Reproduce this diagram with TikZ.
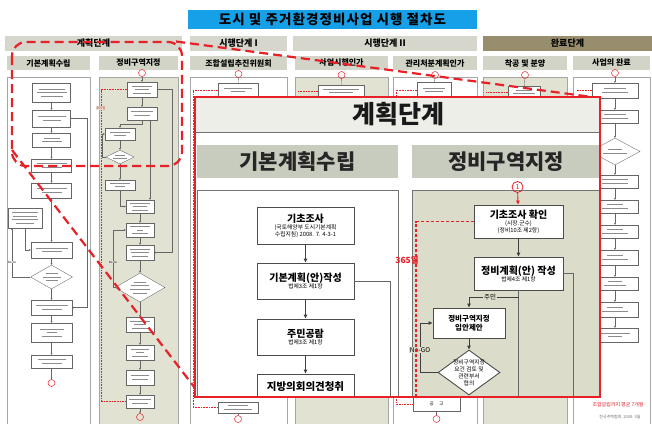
\documentclass[tikz,border=0pt]{standalone}
\usepackage{fontspec}
\newfontfamily\kr{Noto Sans CJK KR}
\newfontfamily\krw[LetterSpace=8]{Noto Sans CJK KR}
\usetikzlibrary{arrows.meta,shapes.geometric,calc}
\definecolor{titleblue}{RGB}{22,160,232}
\definecolor{hdrgray}{RGB}{214,214,204}
\definecolor{hdrdark}{RGB}{152,142,110}
\definecolor{subgray}{RGB}{210,212,200}
\definecolor{beige}{RGB}{226,226,210}
\definecolor{ibeige}{RGB}{220,220,202}
\definecolor{isub}{RGB}{200,204,190}
\definecolor{iband}{RGB}{238,238,232}
\definecolor{kred}{RGB}{232,32,40}
\newcommand\scrb[1]{{\color{black!45}\rule{#1pt}{0.8pt}}}
\newcommand\kfs[2]{\fontsize{#1}{#2}\selectfont}
\begin{document}
\begin{tikzpicture}[x=1pt,y=-1pt,font=\kr,
 phase/.style={fill=hdrgray, minimum height=15pt, inner sep=0pt, font=\kr\bfseries\kfs{9}{10}},
 subh/.style={fill=subgray, minimum height=14pt, inner sep=0pt, font=\kr\bfseries\kfs{8}{9}},
 panel/.style={draw=black!35, line width=0.4pt},
 mini/.style={draw=black!60, fill=white, line width=0.35pt, inner sep=0pt, align=center, font=\kr\kfs{3}{3.6}},
 mdia/.style={diamond, draw=black!60, fill=white, line width=0.35pt, inner sep=0pt},
 dtext/.style={font=\kr\kfs{3}{3.6}, align=center, inner sep=0pt},
 rc/.style={circle, draw=kred, line width=0.5pt, minimum size=7pt, inner sep=0pt},
 mline/.style={draw=black!60, line width=0.35pt},
 marr/.style={mline, -{Triangle[length=1.6pt,width=1.6pt]}},
 rdot/.style={draw=kred, line width=0.6pt, densely dotted},
 bigbox/.style={draw=black!70, fill=white, line width=0.9pt, inner sep=1pt, align=center, font=\kr\kfs{5.8}{7}},
 barr/.style={draw=black!75, line width=0.9pt, -{Triangle[length=4pt,width=3.5pt]}},
 bline/.style={draw=black!60, line width=0.9pt},
 rdash/.style={draw=kred, line width=2.2pt, dash pattern=on 9pt off 5pt},
]
\useasboundingbox (0,0) rectangle (652,423);
\fill[white] (0,0) rectangle (652,423);
% ---------- title and headers
\node[fill=titleblue, minimum width=289pt, minimum height=19pt, inner sep=0pt, font=\krw\bfseries\kfs{13.5}{15}] (title) at (332.5,19.5) {도시 및 주거환경정비사업 시행 절차도};
\node[phase, minimum width=177pt] (ph1) at (93.5,43.5) {계획단계};
\node[phase, minimum width=97pt] (ph2) at (238.5,43.5) {시행단계 I};
\node[phase, minimum width=184pt] (ph3) at (385,43.5) {시행단계 II};
\node[phase, minimum width=169pt, fill=hdrdark] (ph4) at (567.5,43.5) {완료단계};
\node[subh, minimum width=83pt] (sh1) at (48.5,63) {기본계획수립};
\node[subh, minimum width=79pt] (sh2) at (138.5,63) {정비구역지정};
\node[subh, minimum width=97pt] (sh3) at (238.5,63) {조합설립추진위원회};
\node[subh, minimum width=93pt] (sh4) at (341.5,63) {사업시행인가};
\node[subh, minimum width=84pt] (sh5) at (435,63) {관리처분계획인가};
\node[subh, minimum width=84pt] (sh6) at (525,63) {착공 및 분양};
\node[subh, minimum width=77pt] (sh7) at (611.5,63) {사업의 완료};
% ---------- column panels
\draw[panel, fill=white] (7,77) rectangle (90,430);
\draw[panel, fill=beige] (99,77) rectangle (178,430);
\draw[panel, fill=white] (190,77) rectangle (287,430);
\draw[panel, fill=beige] (295,77) rectangle (388,430);
\draw[panel, fill=white] (393,77) rectangle (477,430);
\draw[panel, fill=beige] (483,77) rectangle (567,430);
\draw[panel, fill=white] (573,77) rectangle (650,430);
% ---------- column 1 (background)
\node[mini, minimum width=38pt, minimum height=19pt] (a1) at (51.5,92.5) {\scrb{26}\\\scrb{30}\\\scrb{22}};
\node[mini, minimum width=38pt, minimum height=17pt] (a2) at (51.5,118.5) {\scrb{28}\\\scrb{18}};
\node[mini, minimum width=38pt, minimum height=14pt] (a3) at (51.5,140) {\scrb{16}\\\scrb{20}};
\node[mini, minimum width=40pt, minimum height=13pt] (a4) at (51.5,165.5) {\scrb{30}\\\scrb{20}};
\node[mini, minimum width=40pt, minimum height=15pt] (a5) at (51.5,190.5) {\scrb{30}\\\scrb{20}};
\node[mini, minimum width=34pt, minimum height=20pt] (s1) at (25,218) {\scrb{26}\\\scrb{24}\\\scrb{26}\\\scrb{18}};
\node[mini, minimum width=41pt, minimum height=16pt] (a6) at (51.5,250) {\scrb{32}\\\scrb{20}};
\node[mdia, minimum width=42pt, minimum height=24pt] (ad) at (51.5,277) {};
\node[dtext] (adt) at (ad) {\scrb{12}\\\scrb{18}\\\scrb{12}};
\node[mini, minimum width=41pt, minimum height=15pt] (a7) at (51.5,307.5) {\scrb{32}\\\scrb{20}};
\node[mini, minimum width=41pt, minimum height=19pt] (a8) at (51.5,332.5) {\scrb{24}\\\scrb{10}\\\scrb{20}};
\node[mini, minimum width=41pt, minimum height=13pt] (a9) at (51.5,361.5) {\scrb{28}\\\scrb{20}};
\node[rc] (ac) at (51.5,383) {};
\foreach \u/\v in {a1/a2,a2/a3,a3/a4,a4/a5,a5/a6,a6/ad,ad/a7,a7/a8,a8/a9,a9/ac} \draw[marr] (\u) -- (\v);
\draw[marr] (s1.south) |- (a6.west);
\draw[marr] (ad.west) -| ([xshift=-13pt]s1.south);
\node[font=\kr\kfs{2.8}{3}, fill=white, inner sep=0.3pt] (nogo1) at (12,262) {No-Go};
\draw[marr] (a2.east) -- (87,118.5) |- (a7.east);
% ---------- column 2 (background)
\node[rc] (b0) at (142,73) {};
\node[mini, minimum width=30pt, minimum height=15pt] (b1) at (142,89.5) {\scrb{20}\\\scrb{14}\\\scrb{18}};
\node[mini, minimum width=30pt, minimum height=13pt] (b2) at (142,113.5) {\scrb{22}\\\scrb{16}};
\node[mini, minimum width=30pt, minimum height=12pt] (b3) at (120,134) {\scrb{20}\\\scrb{12}};
\node[mdia, minimum width=28pt, minimum height=14pt] (bd1) at (120,157) {};
\node[dtext] (bd1t) at (bd1) {\scrb{10}\\\scrb{14}};
\node[mini, minimum width=30pt, minimum height=10pt] (b4) at (120,185) {\scrb{20}\\\scrb{10}};
\node[mini, minimum width=28pt, minimum height=13pt] (b5) at (140,206.5) {\scrb{20}\\\scrb{14}\\\scrb{16}};
\node[mini, minimum width=28pt, minimum height=14pt] (b6) at (140,230) {\scrb{20}\\\scrb{6}\\\scrb{16}};
\node[mini, minimum width=28pt, minimum height=15pt] (b7) at (140,252.5) {\scrb{20}\\\scrb{18}\\\scrb{16}};
\node[mdia, minimum width=50pt, minimum height=29pt] (bd2) at (140,287.5) {};
\node[dtext] (bd2t) at (bd2) {\scrb{12}\\\scrb{18}\\\scrb{20}\\\scrb{14}};
\node[mini, minimum width=28pt, minimum height=15pt] (b8) at (140,324.5) {\scrb{20}\\\scrb{12}\\\scrb{16}};
\node[mini, minimum width=28pt, minimum height=15pt] (b9) at (140,352.5) {\scrb{18}\\\scrb{8}\\\scrb{16}};
\node[mini, minimum width=28pt, minimum height=15pt] (b10) at (140,377.5) {\scrb{18}\\\scrb{16}};
\node[mini, minimum width=28pt, minimum height=13pt] (b11) at (140,401.5) {\scrb{22}\\\scrb{16}};
\node[rc] (bc) at (140,417) {};
\foreach \u/\v in {b0/b1,b1/b2,b3/bd1,bd1/b4,b5/b6,b6/b7,b7/bd2,bd2/b8,b8/b9,b9/b10,b10/b11,b11/bc} \draw[marr] (\u) -- (\v);
\draw[marr] (b2.south) -- ++(0,4) -| (b3.north);
\draw[marr] ([xshift=8pt]b2.south) -- ([xshift=8pt]b2.south |- b5.north);
\draw[marr] (b4.south) |- (b5.west);
\draw[marr] (bd1.west) -- ++(-4,0) |- (b3.west);
\draw[marr] (bd2.west) -- ++(-2,0) |- (b6.west);
\node[font=\kr\kfs{2.8}{3}, fill=beige, inner sep=0.3pt] (nogo2) at (113,262) {No-Go};
\draw[marr] (b1.east) -- (172,89.5) |- (b7.east);
\draw[rdot] (b1.west) -- (101,89.5) |- (b11.west);
\node[font=\kr\kfs{3.5}{4}, text=kred, fill=beige, inner sep=0.3pt] (d365a) at (101,108) {365일};
% ---------- columns 3-7 (background)
\node[rc] (c3o) at (238.5,74) {};
\node[mini, minimum width=40pt, minimum height=14pt] (c3a) at (238,90) {\scrb{28}\\\scrb{14}};
\draw[mline] (c3o) -- (c3a);
\node[mini, minimum width=40pt, minimum height=11pt] (c3z) at (238,407.5) {\scrb{20}\\\scrb{28}};
\node[rc] (c3zo) at (238,419) {};
\draw[mline] (c3z) -- (c3zo);
\draw[rdot] (c3a.west) -- (193,90) |- (c3z.west);
\node[rc] (c4o) at (341.5,75) {};
\node[mini, minimum width=46pt, minimum height=12pt] (c4a) at (341,91) {\scrb{36}\\\scrb{24}};
\draw[mline] (c4o) -- (c4a);
\draw[rdot] (c4a.west) -- (298,91);
\node[rc] (c5o) at (435,75) {};
\node[mini, minimum width=34pt, minimum height=16pt] (c5a) at (434,90) {\scrb{22}\\\scrb{18}};
\draw[mline] (c5o) -- (c5a);
\node[draw=black!60, fill=white, line width=0.35pt, minimum width=47pt, minimum height=14pt, inner sep=0pt, font=\kr\kfs{4.5}{5}] (c5z) at (436.5,404) {공 \quad 고};
\node[rc] (c5zo) at (436.5,419) {};
\draw[mline] (c5z) -- (c5zo);
\draw[rdot] (c5a.west) -- (396,90) |- (c5z.west);
\node[rc] (c6o) at (525,75) {};
\node[mini, minimum width=32pt, minimum height=12pt] (c6a) at (524,92) {\scrb{16}\\\scrb{22}};
\draw[mline] (c6o) -- (c6a);
\draw[rdot] (c6a.west) -- (486,92);
\node[rc] (g0) at (615,73) {};
\node[mini, minimum width=46pt, minimum height=15pt] (g1) at (615,90.5) {\scrb{22}\\\scrb{26}};
\node[mini, minimum width=46pt, minimum height=13pt] (g2) at (615,116.5) {\scrb{22}\\\scrb{26}};
\node[mdia, minimum width=50pt, minimum height=27pt] (gd) at (615,151.5) {};
\node[dtext] (gdt) at (gd) {\scrb{14}\\\scrb{24}};
\node[mini, minimum width=46pt, minimum height=13pt] (g3) at (615,181.5) {\scrb{26}\\\scrb{26}};
\node[mini, minimum width=46pt, minimum height=13pt] (g4) at (615,206.5) {\scrb{16}\\\scrb{26}};
\node[mini, minimum width=46pt, minimum height=13pt] (g5) at (615,231.5) {\scrb{16}\\\scrb{26}};
\node[mini, minimum width=46pt, minimum height=15pt] (g6) at (615,257.5) {\scrb{16}\\\scrb{26}};
\node[mini, minimum width=46pt, minimum height=13pt] (g7) at (615,283.5) {\scrb{14}\\\scrb{22}};
\node[mini, minimum width=46pt, minimum height=15pt] (g8) at (615,309.5) {\scrb{16}\\\scrb{26}};
\node[mini, minimum width=46pt, minimum height=14pt] (g9) at (615,335) {\scrb{30}\\\scrb{14}};
\foreach \u/\v in {g0/g1,g1/g2,g2/gd,gd/g3,g3/g4,g4/g5,g5/g6,g6/g7,g7/g8,g8/g9} \draw[marr] (\u) -- (\v);
\draw[rdot] (g1.west) -- (576,90.5);
\node[text=kred, font=\kr\kfs{5}{6}] (note1) at (618,405) {조합설립까지 평균 7개월};
\node[text=black!55, font=\kr\kfs{4}{5}] (note2) at (620,417) {한국주택협회, 2008. 3월};
% ---------- magnified inset
\fill[white] (195,97) rectangle (600,397);
\begin{scope}
\clip (195,97) rectangle (600,397);
\fill[iband] (195,97) rectangle (600,132);
\draw[black!55, line width=0.8pt] (195,132) -- (600,132);
\node[font=\kr\bfseries\kfs{25}{28}, text=black!90] (ititle) at (398,114) {계획단계};
\node[fill=isub, minimum width=201pt, minimum height=33pt, inner sep=0pt, font=\kr\bfseries\kfs{21}{24}, text=black!85] (ish1) at (297.5,161.5) {기본계획수립};
\node[fill=isub, minimum width=188pt, minimum height=33pt, inner sep=0pt, font=\kr\bfseries\kfs{21}{24}, text=black!85] (ish2) at (506,161.5) {정비구역지정};
\draw[black!55, line width=0.8pt, fill=white] (197,190) rectangle (398,420);
\draw[black!55, line width=0.8pt, fill=ibeige] (412,190) rectangle (600,420);
% left flow
\node[bigbox, minimum width=97pt, minimum height=37pt] (k1) at (305.5,225.5) {{\bfseries\kfs{10}{12}기초조사}\\(국토해양부 도시기본계획\\수립지침) 2008. 7. 4-3-1};
\node[bigbox, minimum width=97pt, minimum height=36pt] (k2) at (305.5,281) {{\bfseries\kfs{10}{12}기본계획(안)작성}\\법제3조 제1항};
\node[bigbox, minimum width=97pt, minimum height=36pt] (k3) at (305.5,337) {{\bfseries\kfs{10}{12}주민공람}\\법제3조 제1항};
\node[bigbox, minimum width=97pt, minimum height=36pt] (k4) at (305.5,392) {};
\node[font=\kr\bfseries\kfs{10.5}{12}] (k4t) at (305.5,387) {지방의회의견청취};
\draw[barr] (k1) -- (k2);
\draw[barr] (k2) -- (k3);
\draw[barr] (k3) -- (k4);
\draw[bline] (k2.east) -- (390,281) -- (390,420);
% right flow
\node[circle, draw=kred, line width=0.8pt, minimum size=11pt, inner sep=0pt, text=kred, font=\kr\kfs{7}{8}] (i1) at (517.5,187) {1};
\node[bigbox, minimum width=89pt, minimum height=33pt] (j1) at (518.5,221.5) {{\bfseries\kfs{10}{12}기초조사 확인}\\(시장.군수)\\(정비10조 제2항)};
\node[bigbox, minimum width=89pt, minimum height=33pt] (j2) at (518.5,273.5) {{\bfseries\kfs{10}{12}정비계획(안) 작성}\\법제4조 제1항};
\node[bigbox, minimum width=72pt, minimum height=30pt, font=\kr\bfseries\kfs{7.5}{9.5}] (j3) at (469,323) {정비구역지정\\입안제안};
\node[diamond, draw=black!70, fill=white, line width=0.9pt, inner sep=0pt, minimum width=62pt, minimum height=45pt] (jd) at (469,372.5) {};
\node[font=\kr\kfs{5.8}{6.8}, align=center] (jdt) at (469,373) {정비구역지정\\요건 검토 및\\관련부서\\협의};
\draw[draw=kred, line width=0.9pt, -{Triangle[length=4pt,width=3.5pt]}] (i1) -- (j1);
\draw[barr] (j1) -- (j2);
\draw[bline] (j2.south) -- (518.5,420);
\coordinate (br) at (518.5,297);
\draw[barr] (br) -- (469,297) -- (j3.north);
\node[font=\kr\kfs{6.5}{7}, fill=ibeige, inner sep=1pt] (jumin) at (490,297) {주민};
\draw[barr] (j3) -- (jd);
\draw[barr] (jd.west) -- (420,372.5) |- (j3.west);
\node[font=\kr\kfs{6.5}{7}, fill=ibeige, inner sep=0.8pt] (nogo3) at (420,350) {No-GO};
\draw[bline] (j2.east) -- (573,273.5) -- (573,420);
\draw[kred, line width=1.4pt, dash pattern=on 3pt off 2pt] (j1.west) -| (416,420);
\node[font=\kr\bfseries\kfs{8.5}{10}, text=kred, inner sep=0pt] (d365) at (407,260) {365일};
\end{scope}
\draw[kred, line width=2.5pt] (195,97) rectangle (600,397);
% ---------- dashed highlight
\draw[rdash, rounded corners=14pt] (12,42) rectangle (182,166);
\draw[rdash] (176,41.5) -- (592,97);
\draw[rdash] (12,150) -- (195,388);
\end{tikzpicture}
\end{document}
